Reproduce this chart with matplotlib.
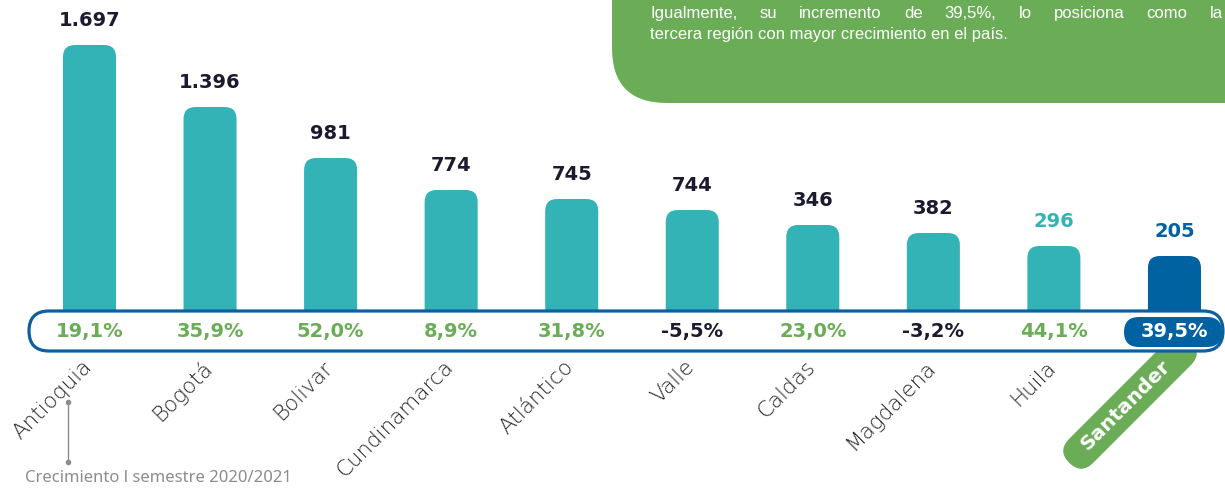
import matplotlib
matplotlib.use("Agg")
import matplotlib.pyplot as plt
import matplotlib.transforms as mtransforms
from matplotlib.patches import FancyBboxPatch

# Data read from the infographic
regions = ['Antioquia', 'Bogotá', 'Bolivar', 'Cundinamarca', 'Atlántico',
           'Valle', 'Caldas', 'Magdalena', 'Huila', 'Santander']
value_labels = ['1.697', '1.396', '981', '774', '745', '744', '346', '382', '296', '205']
growth = [19.1, 35.9, 52.0, 8.9, 31.8, -5.5, 23.0, -3.2, 44.1, 39.5]
# the infographic does not draw bars to scale, so heights are read off the picture
bar_heights = [265, 203, 152, 120, 111, 100, 85, 77, 64, 54]

note_lines = ['Igualmente, su incremento de 39,5%, lo posiciona como la',
              'tercera región con mayor crecimiento en el país.']
footnote = 'Crecimiento l semestre 2020/2021'

TEAL = '#33B3B5'
BLUE = '#0062A1'
GREEN = '#6BAD57'
DARK = '#1B1A2E'
GRAY = '#8C8C8C'
highlight = 'Santander'

W, H = 1225, 488
fig = plt.figure(figsize=(W / 100, H / 100), dpi=100)

# main axes: x = category index, y = bar height (1 unit = 1 px)
step = 120.55
first = 89.5
ax = fig.add_axes([0, 178 / H, 1, 310 / H])
ax.set_xlim(-first / step, (W - first) / step)
ax.set_ylim(0, 310)
ax.axis('off')

# overlay in pixel coordinates for decorations
ov = fig.add_axes([0, 0, 1, 1])
ov.set_xlim(0, W)
ov.set_ylim(H, 0)
ov.axis('off')
blend = mtransforms.blended_transform_factory(ax.transData, ov.transData)

bar_w = 0.44
for i, (name, h, lab) in enumerate(zip(regions, bar_heights, value_labels)):
    color = BLUE if name == highlight else TEAL
    bar = FancyBboxPatch((i - bar_w / 2, -30), bar_w, h + 30,
                         boxstyle='round,pad=0,rounding_size=0.1',
                         mutation_aspect=step, fc=color, ec='none')
    ax.add_patch(bar)
    if name == highlight:
        tcol = BLUE
    elif name == 'Huila':
        tcol = TEAL
    else:
        tcol = DARK
    ax.annotate(lab, (i, h), xytext=(0, 13.5), textcoords='offset points',
                ha='center', va='baseline', fontsize=14, fontweight='bold',
                color=tcol, family='DejaVu Sans')

# growth row
box = FancyBboxPatch((29, 311), 1194, 40, boxstyle='round,pad=0,rounding_size=20',
                     fc='white', ec='#0E5FA0', lw=2.3, zorder=3)
ov.add_patch(box)
pill = FancyBboxPatch((1124, 317), 98, 30, boxstyle='round,pad=0,rounding_size=15',
                      fc=BLUE, ec='none', zorder=4)
ov.add_patch(pill)
for i, (name, g) in enumerate(zip(regions, growth)):
    txt = f'{g:.1f}%'.replace('.', ',')
    if name == highlight:
        col = 'white'
    elif g < 0:
        col = DARK
    else:
        col = GREEN
    ov.text(i, 332, txt, transform=blend, ha='center', va='center', fontsize=14,
            fontweight='bold', color=col, family='DejaVu Sans', zorder=5)

# category labels
for i, name in enumerate(regions):
    if name == highlight:
        continue
    ov.text(i - 0.01, 364, name, transform=blend, rotation=45, rotation_mode='anchor',
            ha='right', va='center', fontsize=15.5, fontweight='light',
            color='#262626', family='DejaVu Sans')

# highlighted label in a rotated green pill (its top end runs under the row box)
cx, cy = 1130, 402
rot = mtransforms.Affine2D().rotate_deg(-45).translate(cx, cy) + ov.transData
tag = FancyBboxPatch((-86, -17), 172, 34, boxstyle='round,pad=0,rounding_size=17',
                     fc=GREEN, ec='none', transform=rot, zorder=2)
ov.add_patch(tag)
ov.text(1125, 405, highlight, rotation=45, rotation_mode='anchor', ha='center',
        va='center', fontsize=14.5, fontweight='bold', color='white',
        family='DejaVu Sans', zorder=2.5)

# green note box top-right
note = FancyBboxPatch((612, -100), 700, 203, boxstyle='round,pad=0,rounding_size=55',
                      fc=GREEN, ec='none', zorder=2)
ov.add_patch(note)
fig.canvas.draw()
renderer = fig.canvas.get_renderer()
note_font = dict(fontsize=12, color='white', family='Liberation Sans',
                 va='baseline', ha='left', zorder=3)
words = note_lines[0].split()
widths = []
for w in words:
    t = ov.text(0, 0, w, **note_font)
    widths.append(t.get_window_extent(renderer).width)
    t.remove()
# justified first line, ending at the right edge of the picture
x_start, x_end = 650, 1223
gap = (x_end - x_start - sum(widths)) / (len(words) - 1)
x = x_start
for w, wd in zip(words, widths):
    ov.text(x, 18, w, **note_font)
    x += wd + gap
ov.text(x_start, 39, note_lines[1], **note_font)

# footnote with small marker line
ov.plot([68, 68], [402, 462], color=GRAY, lw=1, marker='o', ms=3)
ov.text(25, 482, footnote, ha='left', va='baseline', fontsize=12, color=GRAY,
        family='Noto Sans')

fig.savefig('out.png', dpi=100)
